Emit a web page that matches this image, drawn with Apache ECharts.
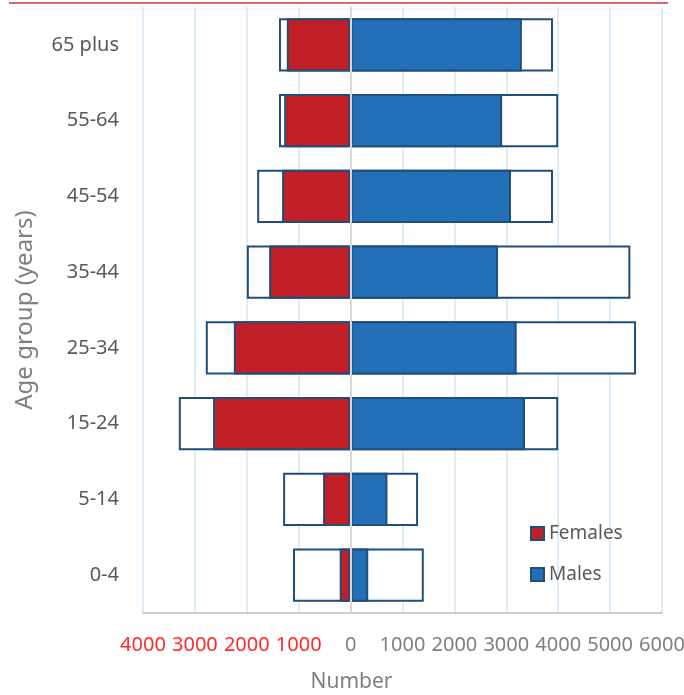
<!DOCTYPE html>
<html>
<head>
<meta charset="utf-8">
<script src="https://cdn.jsdelivr.net/npm/echarts@6/dist/echarts.min.js"></script>
<style>
  html, body { margin: 0; padding: 0; background: #fff; }
  #chart { width: 684px; height: 695px; }
</style>
</head>
<body>
<div id="chart"></div>
<script>
// age groups, bottom to top
var ageGroups = ['0-4', '5-14', '15-24', '25-34', '35-44', '45-54', '55-64', '65 plus']
// filled bars
var females = [210, 530, 2650, 2250, 1570, 1320, 1280, 1230]
var males = [340, 710, 3360, 3200, 2840, 3090, 2920, 3300]
// white outlined bars behind them
var femalesOutline = [1110, 1300, 3310, 2790, 2000, 1800, 1380, 1380]
var malesOutline = [1410, 1300, 4000, 5500, 5390, 3900, 4000, 3900]
// x axis ticks
var xTicks = [-4000, -3000, -2000, -1000, 0, 1000, 2000, 3000, 4000, 5000, 6000]

var font = 'Noto Sans'
var border = '#1f4e79'

var chart = echarts.init(document.getElementById('chart'))

function neg(arr) {
  return arr.map(function (v) { return -v })
}

var option = {
  animation: false,
  textStyle: { fontFamily: font },
  graphic: [
    {
      type: 'line',
      shape: { x1: 9, y1: 3, x2: 668, y2: 3 },
      style: { stroke: '#d46a6a', lineWidth: 2 }
    }
  ],
  grid: {
    left: 143,
    right: 22,
    top: 7,
    bottom: 82,
    outerBoundsMode: 'none'
  },
  legend: {
    data: ['Females', 'Males'],
    orient: 'vertical',
    left: 525,
    top: 519,
    itemWidth: 13,
    itemHeight: 13,
    itemGap: 22,
    icon: 'rect',
    textStyle: { fontSize: 19, color: '#595959', fontFamily: font }
  },
  xAxis: {
    type: 'value',
    min: xTicks[0],
    max: xTicks[xTicks.length - 1],
    interval: 1000,
    name: 'Number',
    nameLocation: 'middle',
    nameGap: 59,
    nameTextStyle: {
      fontSize: 21,
      color: '#7f7f7f',
      padding: [0, 102, 0, 0]
    },
    axisLine: { show: true, onZero: false, lineStyle: { color: '#bfbfbf', width: 1.5 } },
    axisTick: { show: false },
    splitLine: { show: true, lineStyle: { color: '#ddeef9', width: 2 } },
    axisLabel: {
      margin: 22,
      fontSize: 20,
      hideOverlap: false,
      color: function (value) {
        return value < 0 ? '#ff2a2a' : '#7f7f7f'
      },
      formatter: function (value) {
        return Math.abs(value)
      }
    }
  },
  yAxis: {
    type: 'category',
    data: ageGroups,
    z: 10,
    name: 'Age group (years)',
    nameLocation: 'middle',
    nameGap: 106,
    nameTextStyle: { fontSize: 24, color: '#7f7f7f' },
    axisLine: { show: true, onZero: true, lineStyle: { color: '#d9d9d9', width: 2 } },
    axisTick: { show: false },
    axisLabel: {
      margin: 24,
      fontSize: 20,
      color: '#595959'
    }
  },
  series: [
    {
      name: 'Females outline',
      type: 'bar',
      data: neg(femalesOutline),
      barGap: '-100%',
      barCategoryGap: '30%',
      itemStyle: { color: '#ffffff', borderColor: border, borderWidth: 2 }
    },
    {
      name: 'Males outline',
      type: 'bar',
      data: malesOutline,
      barGap: '-100%',
      barCategoryGap: '30%',
      itemStyle: { color: '#ffffff', borderColor: border, borderWidth: 2 }
    },
    {
      name: 'Females',
      type: 'bar',
      data: neg(females),
      barGap: '-100%',
      barCategoryGap: '30%',
      itemStyle: { color: '#c01f27', borderColor: border, borderWidth: 2 }
    },
    {
      name: 'Males',
      type: 'bar',
      data: males,
      barGap: '-100%',
      barCategoryGap: '30%',
      itemStyle: { color: '#2370b8', borderColor: border, borderWidth: 2 }
    }
  ]
}

chart.setOption(option)
</script>
</body>
</html>
